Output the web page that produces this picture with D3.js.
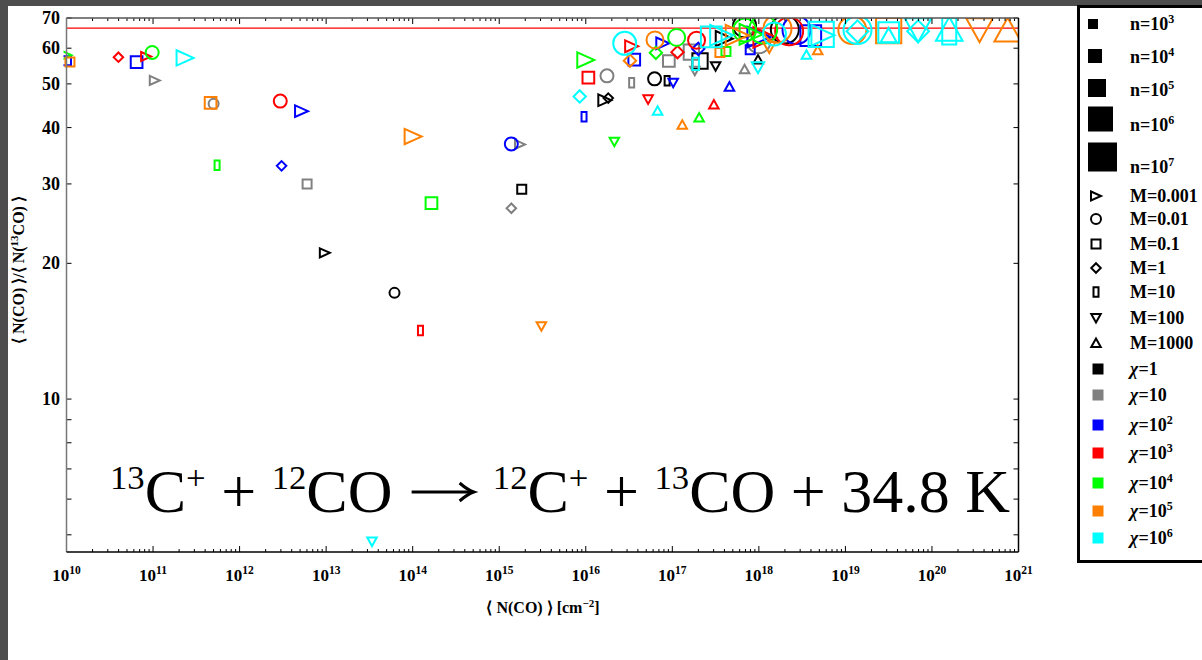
<!DOCTYPE html>
<html>
<head>
<meta charset="utf-8">
<script src="https://cdn.jsdelivr.net/npm/d3@7"></script>
<style>
  html, body { margin: 0; padding: 0; background: #fff; }
  svg { display: block; }
  text { font-family: "Liberation Serif", "Times New Roman", serif; }
</style>
</head>
<body>
<svg id="chart" width="1202" height="660"></svg>
<script>
// ---- categories -------------------------------------------------------
const densityExponents = ["3", "4", "5", "6", "7"];               // n = 10^k
const massLabels = ["0.001", "0.01", "0.1", "1", "10", "100", "1000"];
const fieldLabels = [["1", ""], ["10", ""], ["10", "2"], ["10", "3"], ["10", "4"], ["10", "5"], ["10", "6"]];
const fieldColors = ["#000000", "#808080", "#0000ff", "#ff0000", "#00ff00", "#ff8000", "#00ffff"];
const massShapes = ["triRight", "circle", "square", "diamond", "tallRect", "triDown", "triUp"];

// ---- axis ticks ---------------------------------------------------------
const xDecades = [10, 11, 12, 13, 14, 15, 16, 17, 18, 19, 20, 21];
const yMajorTicks = [10, 20, 30, 40, 50, 60, 70];
const yMinorTicks = [5, 6, 7, 8, 9];
const elementalRatio = 66.5;

// ---- model results, one array per radiation field --------------------
// rows: [log10 <N(CO)>, <N(CO)>/<N(13CO)>, mass index, density index]
const chi1 = [
  [12.985, 21.1, 0, 0], [13.79, 17.2, 1, 0], [15.26, 29.2, 2, 0], [16.22, 46.0, 0, 1],
  [16.26, 46.5, 3, 0], [16.795, 51.3, 1, 1], [16.94, 50.8, 4, 0], [17.32, 56.2, 2, 2],
  [17.5, 54.7, 5, 0], [17.99, 56.6, 6, 0], [17.6, 63.0, 0, 2], [17.835, 67.3, 1, 3],
  [18.3, 66.0, 1, 4]
];
const chi10 = [
  [11.02, 50.9, 0, 0], [11.70, 45.2, 1, 0], [12.78, 30.0, 2, 0], [15.24, 36.7, 0, 0],
  [15.14, 26.5, 3, 0], [16.245, 52.1, 1, 1], [16.53, 50.3, 4, 0], [16.96, 56.2, 2, 1],
  [17.835, 53.9, 6, 0], [17.26, 53.5, 5, 0], [17.22, 58.8, 2, 2], [18.0, 62.0, 1, 3]
];
const chi100 = [
  [10.0, 56.3, 2, 0], [10.81, 55.9, 2, 1], [12.716, 43.5, 0, 1], [12.485, 32.9, 3, 0],
  [15.14, 36.8, 1, 1], [15.98, 42.3, 4, 0], [16.56, 56.6, 2, 1], [16.89, 61.5, 0, 1],
  [17.01, 50.3, 5, 0], [17.66, 49.3, 6, 0], [17.3, 59.8, 3, 1], [17.9, 59.5, 2, 0],
  [18.0, 63.5, 0, 3], [18.6, 64.0, 2, 3], [18.435, 65.8, 1, 4]
];
const chi1e3 = [
  [10.6, 57.3, 3, 0], [10.92, 57.5, 0, 0], [12.47, 45.8, 1, 1], [14.09, 14.2, 4, 0],
  [16.03, 51.6, 2, 1], [16.53, 60.6, 0, 1], [16.72, 46.2, 5, 0], [17.06, 58.8, 3, 1],
  [17.48, 45.0, 6, 0], [17.28, 62.5, 1, 2], [18.07, 63.4, 0, 3], [18.35, 65.4, 1, 4]
];
const chi1e4 = [
  [10.0, 57.9, 0, 0], [10.99, 58.7, 1, 1], [11.74, 33.0, 4, 0], [14.217, 27.2, 2, 1],
  [16.0, 56.5, 0, 2], [16.33, 37.2, 5, 0], [16.81, 58.6, 3, 1], [17.05, 63.4, 1, 2],
  [17.31, 42.1, 6, 0], [17.62, 59.0, 2, 0], [17.835, 65.8, 1, 3], [17.91, 64.4, 0, 3],
  [18.05, 66.0, 1, 4]
];
const chi1e5 = [
  [10.04, 55.9, 2, 0], [11.665, 45.4, 2, 1], [14.005, 38.2, 0, 2], [15.487, 14.5, 5, 0],
  [16.51, 56.3, 3, 1], [16.80, 62.6, 1, 2], [17.115, 40.6, 6, 0], [17.55, 58.7, 2, 0],
  [17.75, 64.1, 0, 3], [18.12, 60.3, 5, 1], [18.215, 66.3, 1, 4], [18.68, 59.4, 6, 0],
  [19.08, 65.8, 1, 4], [19.5, 65.6, 2, 4], [20.55, 66.0, 5, 4], [20.875, 65.7, 6, 4]
];
const chi1e6 = [
  [11.37, 57.1, 0, 2], [13.53, 4.83, 5, 0], [15.93, 46.9, 3, 1], [16.45, 61.5, 1, 3],
  [16.83, 43.6, 6, 0], [17.27, 55.4, 4, 1], [17.99, 54.4, 5, 1], [18.55, 58.0, 6, 0],
  [17.57, 64.1, 0, 3], [17.45, 63.6, 2, 3], [18.18, 64.5, 1, 3], [18.72, 64.4, 2, 4],
  [18.74, 64.1, 0, 3], [19.14, 65.8, 1, 4], [19.14, 65.4, 3, 3], [19.5, 65.0, 2, 3],
  [19.5, 64.0, 6, 2], [19.84, 66.0, 5, 4], [19.84, 65.4, 3, 3], [20.2, 66.0, 6, 4],
  [20.2, 65.4, 4, 4]
];
const seriesByField = [chi1, chi10, chi100, chi1e3, chi1e4, chi1e5, chi1e6];

// ---- layout -------------------------------------------------------------
const svg = d3.select("#chart");
const W = 1202, H = 660;
const plot = { left: 66.5, right: 1018.5, top: 18, bottom: 552 };
const markerSizes = [10, 13, 17, 23, 28];

const x = d3.scaleLog().domain([1e10, 1e21]).range([plot.left, plot.right]);
const y = d3.scaleLog().domain([4.58, 70]).range([plot.bottom, plot.top]);

// dark frame strips along the top and left edge
svg.append("rect").attr("x", 0).attr("y", 0).attr("width", W).attr("height", H).attr("fill", "#fff");
svg.append("rect").attr("x", 0).attr("y", 0).attr("width", W).attr("height", 6).attr("fill", "#4d4d4d");
svg.append("rect").attr("x", 0).attr("y", 0).attr("width", 8).attr("height", H).attr("fill", "#4d4d4d");

function shapePath(shape, s) {
  const h = s / 2;
  switch (shape) {
    case "triRight": return `M${-h},${-h * 0.9}L${h},0L${-h},${h * 0.9}Z`;
    case "triDown": { const w = h * 0.95; return `M${-w},${-h * 0.8}L${w},${-h * 0.8}L0,${h * 0.9}Z`; }
    case "triUp": { const w = h * 0.95; return `M${-w},${h * 0.8}L${w},${h * 0.8}L0,${-h * 0.9}Z`; }
    case "square": { const a = h * 0.9; return `M${-a},${-a}H${a}V${a}H${-a}Z`; }
    case "diamond": { const a = h * 0.95; return `M0,${-a}L${a},0L0,${a}L${-a},0Z`; }
    case "tallRect": { const a = h * 0.5, b = h * 0.95; return `M${-a},${-b}H${a}V${b}H${-a}Z`; }
    default: { const r = h; return `M${r},0A${r},${r} 0 1,1 ${-r},0A${r},${r} 0 1,1 ${r},0Z`; }
  }
}

// ---- plot clip + markers ----------------------------------------------
svg.append("clipPath").attr("id", "plotClip")
  .append("rect").attr("x", plot.left - 3).attr("y", plot.top)
  .attr("width", plot.right - plot.left + 3).attr("height", plot.bottom - plot.top);

const markers = svg.append("g").attr("clip-path", "url(#plotClip)");

// reference line: elemental 12C/13C ratio
markers.append("line")
  .attr("x1", plot.left).attr("x2", plot.right)
  .attr("y1", y(elementalRatio)).attr("y2", y(elementalRatio))
  .attr("stroke", "#ff0000").attr("stroke-width", 1.2);

seriesByField.forEach((rows, fi) => {
  markers.append("g").selectAll("path").data(rows).join("path")
    .attr("transform", d => `translate(${x(Math.pow(10, d[0]))},${y(d[1])})`)
    .attr("d", d => shapePath(massShapes[d[2]], markerSizes[d[3]]))
    .attr("fill", "none")
    .attr("stroke", fieldColors[fi])
    .attr("stroke-width", 2);
});

// ---- axes ------------------------------------------------------------
const axes = svg.append("g");
const minorX = [];
for (let e = 10; e < 21; e++) for (let m = 2; m <= 9; m++) minorX.push(m * Math.pow(10, e));
const majorX = xDecades.map(e => Math.pow(10, e));

function drawTicks(values, len, side) {
  values.forEach(v => {
    if (side === "bottom" || side === "top") {
      const px = x(v), py = side === "bottom" ? plot.bottom : plot.top;
      const dir = side === "bottom" ? -1 : 1;
      axes.append("line").attr("x1", px).attr("x2", px).attr("y1", py).attr("y2", py + dir * len)
        .attr("stroke", "#000").attr("stroke-width", 1);
    } else {
      const py = y(v), px = side === "left" ? plot.left : plot.right;
      const dir = side === "left" ? 1 : -1;
      axes.append("line").attr("x1", px).attr("x2", px + dir * len).attr("y1", py).attr("y2", py)
        .attr("stroke", "#000").attr("stroke-width", 1);
    }
  });
}
drawTicks(majorX, 6, "bottom"); drawTicks(minorX, 3, "bottom");
drawTicks(majorX, 6, "top"); drawTicks(minorX, 3, "top");
drawTicks(yMajorTicks, 5, "left"); drawTicks(yMinorTicks, 5, "left");
drawTicks(yMajorTicks, 5, "right"); drawTicks(yMinorTicks, 5, "right");

// frame
axes.append("line").attr("x1", plot.left).attr("x2", plot.right).attr("y1", plot.top).attr("y2", plot.top)
  .attr("stroke", "#555").attr("stroke-width", 1.5);
axes.append("line").attr("x1", plot.left).attr("x2", plot.left).attr("y1", plot.top).attr("y2", plot.bottom)
  .attr("stroke", "#777").attr("stroke-width", 1.5);
axes.append("line").attr("x1", plot.left).attr("x2", plot.right).attr("y1", plot.bottom).attr("y2", plot.bottom)
  .attr("stroke", "#000").attr("stroke-width", 1.5);
axes.append("line").attr("x1", plot.right).attr("x2", plot.right).attr("y1", plot.top).attr("y2", plot.bottom)
  .attr("stroke", "#000").attr("stroke-width", 1.5);

// x tick labels 10^k
xDecades.forEach(e => {
  const t = axes.append("text").attr("x", x(Math.pow(10, e))).attr("y", 581)
    .attr("text-anchor", "middle").attr("font-size", 17).attr("font-weight", "bold");
  t.append("tspan").text("10");
  t.append("tspan").attr("font-size", 11.5).attr("dy", -7).text(String(e));
});
// y tick labels
yMajorTicks.forEach(v => {
  axes.append("text").attr("x", 60).attr("y", y(v) + 6)
    .attr("text-anchor", "end").attr("font-size", 18).attr("font-weight", "bold").text(v);
});

// axis titles
const xt = axes.append("text").attr("x", 543).attr("y", 613).attr("text-anchor", "middle")
  .attr("font-size", 16).attr("font-weight", "bold");
xt.append("tspan").text("\u27E8 N(CO) \u27E9 [cm");
xt.append("tspan").attr("font-size", 11).attr("dy", -6).text("\u22122");
xt.append("tspan").attr("dy", 6).text("]");

const yt = axes.append("text").attr("transform", "translate(24,270) rotate(-90)")
  .attr("text-anchor", "middle").attr("font-size", 16).attr("font-weight", "bold");
yt.append("tspan").text("\u27E8 N(CO) \u27E9/\u27E8 N(");
yt.append("tspan").attr("font-size", 11).attr("dy", -6).text("13");
yt.append("tspan").attr("dy", 6).text("CO) \u27E9");

// ---- reaction annotation ---------------------------------------------
const eqSize = 62, eqBase = 512;
function chemText(parts, anchorX, anchor) {
  const t = svg.append("text").attr("x", anchorX).attr("y", eqBase)
    .attr("font-size", eqSize).attr("text-anchor", anchor).attr("fill", "#000");
  let raised = false;
  parts.forEach(([str, sup]) => {
    const sp = t.append("tspan").text(str);
    if (sup) { sp.attr("font-size", eqSize * 0.56).attr("dy", raised ? 0 : -23); raised = true; }
    else { sp.attr("dy", raised ? 23 : 0); raised = false; }
  });
  return t;
}
const lhs = chemText([["13", 1], ["C", 0], ["+", 1], [" + ", 0], ["12", 1], ["CO", 0]], 110, "start");
const rhs = chemText([["12", 1], ["C", 0], ["+", 1], [" + ", 0], ["13", 1], ["CO + 34.8 K", 0]], 1010, "end");
const lhsEnd = lhs.node().getBBox().x + lhs.node().getBBox().width;
const rhsStart = rhs.node().getBBox().x;
const arrowMid = (lhsEnd + rhsStart) / 2, arrowHalf = 31, arrowY = eqBase - 20;
svg.append("path")
  .attr("d", `M${arrowMid - arrowHalf},${arrowY}H${arrowMid + arrowHalf - 2}`)
  .attr("stroke", "#000").attr("stroke-width", 3);
svg.append("path")
  .attr("d", `M${arrowMid + arrowHalf - 14},${arrowY - 9}Q${arrowMid + arrowHalf - 6},${arrowY - 2} ${arrowMid + arrowHalf},${arrowY}Q${arrowMid + arrowHalf - 6},${arrowY + 2} ${arrowMid + arrowHalf - 14},${arrowY + 9}`)
  .attr("fill", "none").attr("stroke", "#000").attr("stroke-width", 3);

// ---- legend -------------------------------------------------------------
const lg = svg.append("g");
lg.append("rect").attr("x", 1078.5).attr("y", 6.5).attr("width", 140).attr("height", 555)
  .attr("fill", "#fff").attr("stroke", "#000").attr("stroke-width", 3);

const textX = 1130, symX = 1096;
const densityRows = [24, 56, 88, 119, 157];
const densityTextRows = [30, 63, 96, 131, 173];
const densitySquare = [10, 14, 18, 25, 29];
densityExponents.forEach((e, i) => {
  const s = densitySquare[i];
  lg.append("rect").attr("x", 1088).attr("y", densityRows[i] - s / 2).attr("width", s).attr("height", s).attr("fill", "#000");
  const t = lg.append("text").attr("x", textX).attr("y", densityTextRows[i]).attr("font-size", 18).attr("font-weight", "bold");
  t.append("tspan").text("n=10");
  t.append("tspan").attr("font-size", 12).attr("dy", -7).text(e);
});
const massRows = [196, 219, 244, 268, 292, 318, 343];
massLabels.forEach((m, i) => {
  lg.append("path").attr("transform", `translate(${symX},${massRows[i]})`)
    .attr("d", shapePath(massShapes[i], 10))
    .attr("fill", "none").attr("stroke", "#000").attr("stroke-width", 2);
  lg.append("text").attr("x", textX).attr("y", massRows[i] + 6).attr("font-size", 18).attr("font-weight", "bold").text("M=" + m);
});
const fieldRows = [369, 395, 425, 453, 483, 511, 538];
fieldLabels.forEach((f, i) => {
  lg.append("rect").attr("x", symX - 3.5).attr("y", fieldRows[i] - 5.5).attr("width", 11).attr("height", 11).attr("fill", fieldColors[i]);
  const t = lg.append("text").attr("x", textX).attr("y", fieldRows[i] + 6).attr("font-size", 18).attr("font-weight", "bold");
  t.append("tspan").attr("font-style", "italic").text("\u03C7");
  t.append("tspan").text("=" + f[0]);
  if (f[1]) t.append("tspan").attr("font-size", 12).attr("dy", -7).text(f[1]);
});
</script>
</body>
</html>
